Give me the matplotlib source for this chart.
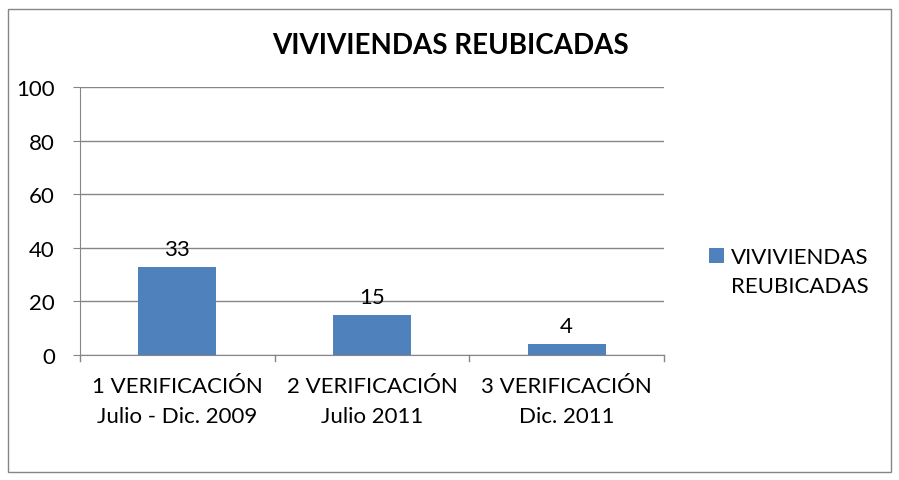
import matplotlib.pyplot as plt
from matplotlib.patches import Rectangle

categorias = ['1 VERIFICACIÓN\nJulio - Dic. 2009',
              '2 VERIFICACIÓN\nJulio 2011',
              '3 VERIFICACIÓN\nDic. 2011']
viviendas = [33, 15, 4]
serie = 'VIVIVIENDAS\nREUBICADAS'
titulo = 'VIVIVIENDAS REUBICADAS'
yticks = [0, 20, 40, 60, 80, 100]

plt.rcParams['font.family'] = ['Lato', 'DejaVu Sans']
azul = '#4F81BD'
gris = '#868686'

fig = plt.figure(figsize=(8.99, 4.81), dpi=100)
W, H = 899, 481
ax = fig.add_axes([80 / W, 1 - 356 / H, 584 / W, 268 / H])

x = range(len(categorias))
bars = ax.bar(x, viviendas, width=0.4, color=azul, label=serie, zorder=3)
for b, v in zip(bars, viviendas):
    ax.text(b.get_x() + b.get_width() / 2, v + 3, str(v),
            ha='center', va='bottom', fontsize=16)

ax.set_xlim(-0.5, len(categorias) - 0.5)
ax.set_ylim(0, 100)
ax.set_yticks(yticks)
ax.set_xticks(x)
ax.set_xticklabels(categorias, fontsize=16, linespacing=1.65)
ax.tick_params(axis='y', labelsize=16, length=5, color=gris, pad=13)
ax.tick_params(axis='x', length=0, pad=15)
# separators between categories on the x axis
for s in [-0.5, 0.5, 1.5, 2.5]:
    ax.plot([s, s], [0, -2.2], color=gris, lw=1, clip_on=False)
ax.grid(axis='y', color=gris, lw=1, zorder=0)
for side in ['top', 'right']:
    ax.spines[side].set_visible(False)
ax.spines['left'].set_color(gris)
ax.spines['bottom'].set_color(gris)

fig.text(450 / W, 1 - 46 / H, titulo, ha='center', va='center',
         fontsize=20, fontweight='bold')

# legend: colour square plus two-line series name
fig.patches.append(Rectangle((709 / W, 1 - 264 / H), 15 / W, 15 / H,
                             transform=fig.transFigure,
                             facecolor=bars[0].get_facecolor(), lw=0))
fig.text(731 / W, 1 - 248 / H, serie, ha='left', va='top',
         fontsize=16, linespacing=1.55)

fig.patches.append(Rectangle((8 / W, 8 / H), 883 / W, 463 / H,
                             transform=fig.transFigure, fill=False,
                             edgecolor=gris, lw=1))

plt.savefig('out.png', dpi=100)
